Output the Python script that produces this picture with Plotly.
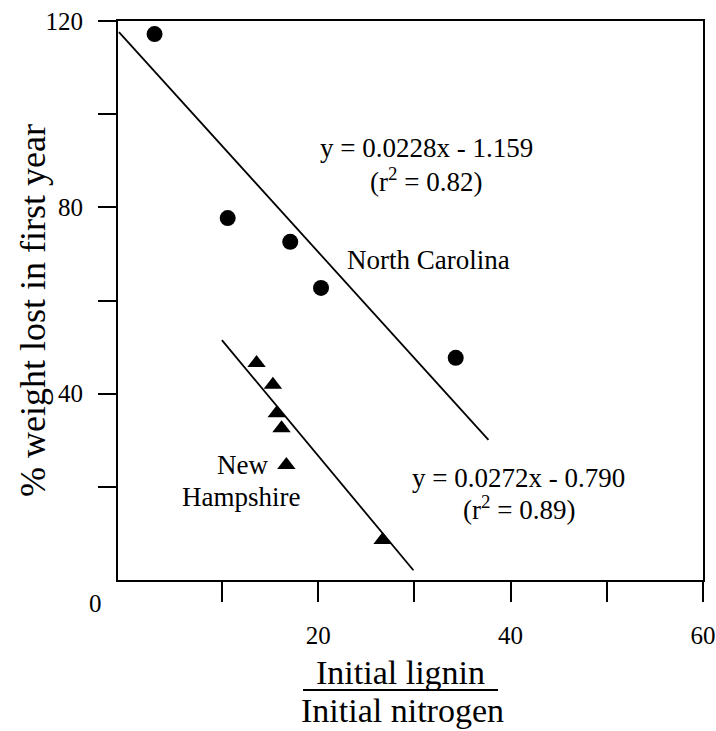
import plotly.graph_objects as go

# Data
nc_x = [3.0, 10.6, 17.1, 20.3, 34.3]
nc_y = [117.2, 77.7, 72.6, 62.7, 47.7]
nh_x = [13.6, 15.3, 15.7, 16.2, 16.7, 26.7]
nh_y = [46.6, 41.9, 35.8, 32.6, 24.7, 8.6]

nc_fit_x = [-0.7, 37.7]
nc_fit_y = [117.6, 30.1]
nh_fit_x = [10.0, 29.9]
nh_fit_y = [51.5, 2.1]

x_major = [20, 40, 60]
x_minor = [10, 30, 50]
y_major = [40, 80, 120]
y_minor = [20, 60, 100]

FONT = "Liberation Serif"

fig = go.Figure()
fig.add_trace(go.Scatter(x=nc_fit_x, y=nc_fit_y, mode="lines",
                         line=dict(color="black", width=1.8), showlegend=False))
fig.add_trace(go.Scatter(x=nh_fit_x, y=nh_fit_y, mode="lines",
                         line=dict(color="black", width=1.8), showlegend=False))
fig.add_trace(go.Scatter(x=nc_x, y=nc_y, mode="markers",
                         marker=dict(symbol="circle", size=16, color="black"),
                         showlegend=False))
fig.add_trace(go.Scatter(x=nh_x, y=nh_y, mode="markers",
                         marker=dict(symbol="triangle-up", size=16, color="black"),
                         showlegend=False))

ann_font = dict(family=FONT, size=27, color="black")
annotations = [
    dict(x=426, y=148, text="y = 0.0228x - 1.159"),
    dict(x=426, y=180, text="(r<sup>2</sup> = 0.82)"),
    dict(x=428, y=260, text="North Carolina"),
    dict(x=518, y=478, text="y = 0.0272x - 0.790"),
    dict(x=519, y=508, text="(r<sup>2</sup> = 0.89)"),
    dict(x=242, y=465, text="New"),
    dict(x=241, y=497, text="Hampshire"),
    dict(x=95, y=603, text="0", size=25),
    dict(x=400, y=672, text="Initial lignin", size=34),
    dict(x=402, y=710, text="Initial nitrogen", size=34),
]
L, R, T, B = 118, 703, 21, 580
anns = []
for a in annotations:
    f = dict(ann_font)
    if "size" in a:
        f["size"] = a["size"]
    anns.append(dict(x=(a["x"] - L) / (R - L), y=(B - a["y"]) / (B - T),
                     xref="paper", yref="paper", text=a["text"], showarrow=False,
                     font=f, xanchor="center", yanchor="middle"))
anns.append(dict(x=(33 - L) / (R - L), y=(B - 311) / (B - T), xref="paper", yref="paper",
                 text="% weight lost in first year", textangle=-90, showarrow=False,
                 font=dict(family=FONT, size=36, color="black"),
                 xanchor="center", yanchor="middle"))

fig.update_layout(
    width=716, height=731,
    margin=dict(l=L, r=716 - R, t=T, b=731 - B, autoexpand=False),
    paper_bgcolor="white", plot_bgcolor="white",
    annotations=anns,
    shapes=[dict(type="line", xref="paper", yref="paper",
                 x0=(303 - L) / (R - L), x1=(498 - L) / (R - L),
                 y0=(B - 690) / (B - T), y1=(B - 690) / (B - T),
                 line=dict(color="black", width=2))],
)
fig.update_xaxes(range=[-0.8, 60], tickmode="array", tickvals=x_major,
                 ticks="outside", ticklen=20, tickwidth=2, tickcolor="black",
                 minor=dict(tickmode="array", tickvals=x_minor, ticks="outside",
                            ticklen=20, tickwidth=2, tickcolor="black", showgrid=False),
                 showline=True, linecolor="black", linewidth=2, mirror=True,
                 showgrid=False, zeroline=False, ticklabelstandoff=12, automargin=False,
                 tickfont=dict(family=FONT, size=25, color="black"))
fig.update_yaxes(range=[0, 120], tickmode="array", tickvals=y_major,
                 ticks="outside", ticklen=18, tickwidth=2, tickcolor="black",
                 minor=dict(tickmode="array", tickvals=y_minor, ticks="outside",
                            ticklen=18, tickwidth=2, tickcolor="black", showgrid=False),
                 showline=True, linecolor="black", linewidth=2, mirror=True,
                 showgrid=False, zeroline=False, ticklabelstandoff=10, automargin=False,
                 tickfont=dict(family=FONT, size=25, color="black"))

fig.write_html("out.html", config={"displayModeBar": False, "staticPlot": True},
               post_script="document.body.style.margin='0';document.body.style.overflow='hidden';")
